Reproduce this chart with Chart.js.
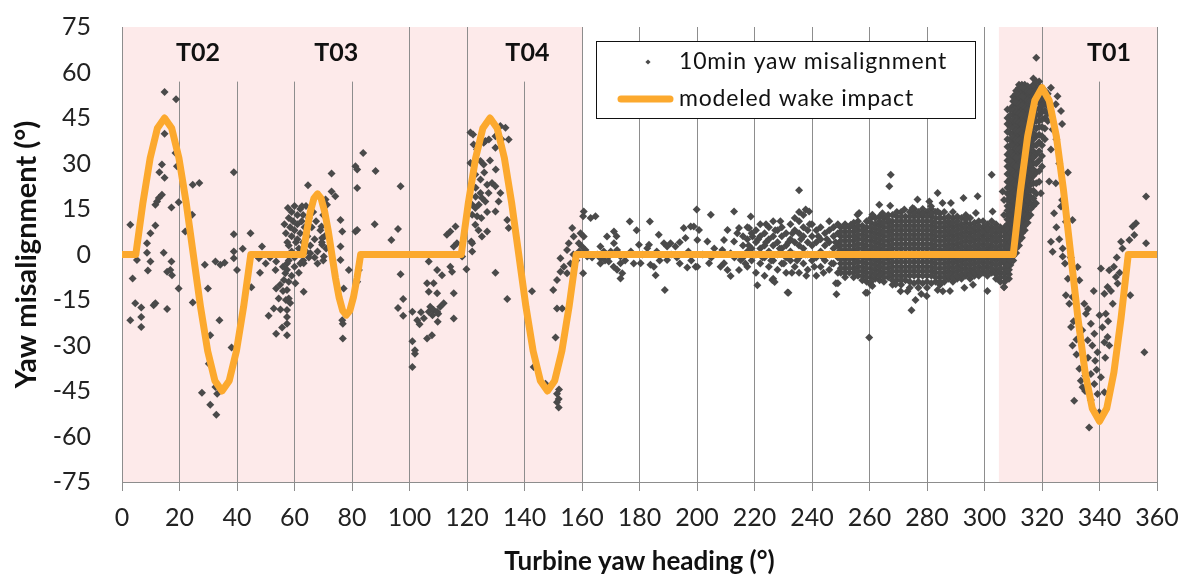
<!DOCTYPE html>
<html><head><meta charset="utf-8">
<script src="https://cdn.jsdelivr.net/npm/chart.js@4"></script>
<style>html,body{margin:0;padding:0;background:#fff}</style>
</head><body>
<canvas id="c" width="1180" height="575"></canvas>
<script>
// ---------- data ----------
const xTickValues = [0,20,40,60,80,100,120,140,160,180,200,220,240,260,280,300,320,340,360];
const yTickValues = [-75,-60,-45,-30,-15,0,15,30,45,60,75];
const shadedRanges = [[0,160],[305,360]];
const turbineLabels = ['T02','T03','T04','T01'];
const turbineLabelX = [26.4,74.5,141,343.3];
const turbineBoxRanges = [[0.5,48.7],[57.3,91.6],[121.5,157],[321,358]];

const wakeX = [0,4.8,7.3,9.8,12.3,14.8,17.3,19.8,22.3,24.8,27.3,29.8,32.3,34.8,37.3,39.8,42.3,44.8,
  63,64.25,65.5,66.75,68,69.25,70.5,71.75,73,74.25,75.5,76.75,78,79.25,80.5,81.75,83,
  118,120.5,123,125.5,128,130.5,133,135.5,138,140.5,143,145.5,148,150.5,153,155.5,158,
  310,312.5,315,317.5,320,322.5,325,327.5,330,332.5,335,337.5,340,342.5,345,347.5,350,360];
const wakeY = [0,0,17.2,31.8,41.6,45,41.6,31.8,17.2,0,-17.2,-31.8,-41.6,-45,-41.6,-31.8,-17.2,0,
  0,7.7,14.1,18.5,20,18.5,14.1,7.7,0,-7.7,-14.1,-18.5,-20,-18.5,-14.1,-7.7,0,
  0,17.2,31.8,41.6,45,41.6,31.8,17.2,0,-17.2,-31.8,-41.6,-45,-41.6,-31.8,-17.2,0,
  0,21,38.9,50.8,55,50.8,38.9,21,0,-21,-38.9,-50.8,-55,-50.8,-38.9,-21,0,0];

const pointsT02 = [[14.8,53.6],[18.8,51.2],[14.8,39.8],[18.6,33.5],[19.1,29.1],[13.9,29.7],[13,27.1],[14.8,25.3],[38.9,27.1],[24.6,23],[26.9,23.6],[13.9,19.7],[12.8,18.6],[11.6,16.4],[12.2,17.5],[17.2,15.5],[19.7,17.2],[2.9,9.8],[11.6,9.6],[9.9,7],[8.7,3.7],[24.4,13.1],[22,7.6],[38.9,6.7],[44.7,7],[8.7,0.6],[14.5,0.6],[5.2,-1.8],[9.9,-2.3],[17.2,-2.3],[9,-5.3],[15.7,-5.7],[17.4,-6.8],[16.8,-5.1],[3.7,-7.9],[19.7,-11.2],[4.6,-16.1],[6.7,-17.5],[6.7,-20.6],[2.9,-21.7],[6.7,-23.9],[11,-16.7],[11.6,-16.1],[15.7,-18],[24.6,-15.8],[28.8,-3.4],[29.9,-11.2],[32.5,-2.3],[34.2,-3.4],[35.7,-2.7],[33.9,-21.7],[30.7,-26.6],[38.1,-30.7],[30.2,-36],[32.5,-43.7],[33.1,-45.9],[27.8,-45.6],[30.7,-49.5],[32.8,-52.8],[38.9,1],[38.9,-1.2],[40,-5.1],[42,1.9],[45,-10.8],[48.7,2.6],[47.6,-1.2]];

const pointsT03 = [[57.7,15.3],[64.7,22.8],[72.9,26.7],[72.9,20.8],[70.8,18.1],[71.3,16.4],
[58,12],[58.5,9],[59,14],[59,6],[59.5,11],[60,16],[60,8],[60.5,4],[61,13],[61,10],[61.5,2],[62,15],[62,7],[62.5,11],[63,4],[63,13],[63.5,9],[64,16],[64,1],[64.5,6],[65,12],[65.5,3],[66,9],[66.5,14],[67,5],[67.5,11],[68,1],[69,8],[69.5,4],[70,13],[70.5,6],[71,2],[58,3],[59,1],[60,-1],[61,5],[62,0],[57,7],[57.5,4],[56.5,10],[63,-2],[65,-1],
[69.4,9.2],[69.6,5.4],[69.6,3.2],[70.2,-0.7],[65.5,0.4],[62.6,-0.1],[63.2,-2.9],
[53.6,-2.3],[53.4,-5.1],[56.8,-6.2],[58,-9],[56.3,-8.4],[60.3,-9.5],[53.6,-11.2],[57.4,-11.7],[63.2,-12.3],[54.5,-14.5],[58,-14.5],[52.8,-17.8],[55.1,-18.1],[57.4,-18.3],[51,-20.2],[57.4,-20.6],[57.4,-22.8],[55.7,-24.1],[57.4,-26.6],[53.6,-26.1],
[57.4,-3],[57.4,-5],[58,-2],[56,-4],[57,-15],[58.5,-16],[56,-12],[55,-10],[59,-7],[60,-4],[61.5,-6],[62,-3],
[76,11.4],[76.6,7.6],[76,2.6],[76,-1.8],[78.9,-5.1],[77.1,-11.2],[76.6,-21.7],[76.8,-22.8],[76.8,-27.7],[83.9,33.5],[81.2,29.1],[81.8,28],[81.8,21.9],[88.2,27.5],[87.9,10],[81.2,7.6],[81.8,8.1],[82.4,-5.1],[81.8,-9],[74.2,19.2],[67,-1],[68,-3],[70,-2],[62.6,15.9],[50,-3],[51.5,-1],[48,-6]];

const pointsGap = [[96.9,22.5],[96,8.4],[93.7,4.8],[96.9,-6.5],[97.8,-14.7],[96,-17.6],[97.8,-20.2],[101,-18.9],[102.7,-21.7],[101,-28.6],[101.9,-31.6],[101.9,-32.7],[101,-37.1],
[106.7,-2.3],[106.1,-9.5],[108.4,-9.5],[106.7,-12.3],[109.6,-12.8],[107.2,-17.2],[108.4,-18.3],[106.7,-18.9],[109.6,-18.9],[110.7,-17.2],[111.9,-16.1],[109.8,-22.2],[106.1,-27.7],[107.8,-26.6],[109.6,-5.1],[111.3,-6.8],[114.2,-4],[114.8,-5.7],[115.4,-12.8],[115.4,-21.1],[113,6.5],[114.2,7.6],[116,9.2],[115.4,2.6],[116.5,3.7],[118.3,-0.7],[119.8,-4.9],[121.8,1],[121.5,4.3],[103.5,-23],[104,-19],[105,-21],[108,-20],[110,-19.5]];

const pointsT04 = [[121.2,40.2],[122.1,39.6],[122.3,36.3],[125.8,36.8],[126.4,37.4],[123.5,34.6],[127.6,37.9],[129.9,39],[131.6,42.4],[133.4,41.8],[134.5,37.9],[129.9,35.2],[121.2,30.2],[124.7,30.8],[125.8,29.7],[122.9,26.4],[124.7,24.7],[127,23],[128.7,23.6],[129.9,22.5],[131.6,20.3],[127.5,20.3],[124.7,20.3],[125.2,18.6],[126.4,17.5],[121.8,16.4],[122.9,15.3],[124.1,16.4],[121.8,13.1],[123.5,12.6],[129.9,14.2],[131,17.5],[134,11.4],[134.5,8.7],[125.2,5.9],[127,7.6],[122.9,9.8],[121.8,3.7],[129.9,-6],[134,-14.7],[142.6,-12.1],[150,-11.7],[150.8,-27.4],[151.3,-17.8],[153.1,-17.8],[151.3,-45.9],[151.9,-47.6],[151.3,-48.7],[151.9,-50.4],[147.3,-42.6],[143.2,-37.1],[152,-44.5],
[123,22],[126,27],[128,31],[130,28],[132,38],[125,12],[123,19],[127,14],[124,8],
[156.6,8.7],[157.1,5.9],[159.5,7],[160.6,5.9],[158.9,3.7],[155.4,3.7],[154.8,1.5],[160,2.6],[161.2,1.5],[161.8,-0.7],[152.5,-1.2],[153.7,-4],[152.5,-5.7],[154.8,-6.2],[151.3,-8.4],[160.4,-6.2],[160.6,14.2],[160.4,12.6],[163,12],[164.7,12.6],[157,0],[158,-2],[159,1],[156,-3]];

const pointsMid = [[166.4,2.6],[167.6,1],[169.3,-0.7],[171.1,3.7],[172.2,1.5],[173.4,-0.7],[173.4,-2.9],[174,-6.2],[173.4,-7.9],[168.7,5.9],[171.1,7.6],[176.6,10.9],[179.8,3.2],[180.4,-2.9],[183.6,10.9],[183.3,3.2],[183.8,-3.4],[185.6,-6.8],[185,-4],[186.7,6.5],[188.5,3.7],[189.6,2.6],[190.8,3.7],[192.5,2.6],[195.4,8.7],[196,5.4],[198.9,9.2],[199.9,14.8],[196.6,-4.3],[199.5,-4],[188.8,-11.7],[189.6,-1.8],[182.7,2.1],[163.5,-1],[165.3,0],[166.4,-1.2],[169.3,-2.3],[171,-4],[172.2,-5],[166.4,-3],[168,-2],[177,1],[178,-3],[181,0],[186,1],[187,-2],[191,0],[193,-1],[194,4],[197,1],[198,-2],[175,-2],[170,1],[172,6],[179,8],[194,-3],
[197.8,9.2],[200.7,8.1],[200.1,4.8],[203.6,4.3],[209.4,4.8],[210.6,8.1],[212.9,4.3],[214.6,8.7],[214,7],[208.8,1.5],[211.7,0.4],[215.2,-1.8],[209.4,-2.9],[204.2,-2.9],[200.1,-4],[208.2,-4],[211.7,-7.1],[210.6,-5.1],[214.6,-5.1],[218.7,12.5],[218.1,8.7],[219.3,5.9],[204.8,13.1],[212.9,14.2],[202,0],[206,2],[205,-1],[213,-1]];

// band of 10-min values, read column by column (x, then the y values seen in that column)
const bandColumnX = [216,217.5,219,220.5,222,223.5,225,226.5,228,229.5,231,232.5,234,235.5,237,238.5,240,241.5,243,244.5,246,247.5,249,
  250,251.5,253,254.5,256,257.5,259,260.5,262,263.5,265,266.5,268,269.5,271,272.5,274,275.5,277,278.5,280,281.5,283,284.5,286,287.5,289,290.5,292,293.5,295,296.5,298,299.5,301,302.5,304,305.5,307,308.5];
const bandColumnY = [
  [-1,3,6],[-4,1,5,9],[-2,2,7],[-6,0,4,8],[-3,2,6,10],[-7,-1,3,7],[-4,1,5,9],[-8,-2,3,6,11],[-5,0,4,8],[-3,2,6,9],[-6,-1,3,7],[-2,1,5,10],[-4,0,4,8,12],[-6,-1,3,7,11,14],[-3,2,6,9,13],[-5,0,4,8],[-2,3,6,10],[-7,-1,4,8],[-4,1,5,9],[-2,3,7],[-5,0,4,8,11],[-3,2,6,9],[-6,-1,3,7,10],
  [-6,-3,0,3,6,9],[-7.5,-4.5,-1.5,1.5,4.5,7.5,10],[-6,-3,0,3,6,9],[-7.5,-4.5,-1.5,1.5,4.5,7.5,10.5],[-7,-4,-1,2,5,8,11],[-8.5,-5.5,-2.5,0.5,3.5,6.5,9.5],[-9,-6,-3,0,3,6,9,11],[-10,-7.5,-4.5,-1.5,1.5,4.5,7.5,10.5,12],[-8,-5,-2,1,4,7,10,12],[-8.5,-5.5,-2.5,0.5,3.5,6.5,9.5,12.5],[-9,-6,-3,0,3,6,9,12],[-7.5,-4.5,-1.5,1.5,4.5,7.5,10.5,13],[-10,-7,-4,-1,2,5,8,11,13],[-8.5,-5.5,-2.5,0.5,3.5,6.5,9.5,12.5,14],[-10,-7,-4,-1,2,5,8,11,14],[-8.5,-5.5,-2.5,0.5,3.5,6.5,9.5,12.5],[-11,-7,-4,-1,2,5,8,11,14],[-9.5,-5.5,-2.5,0.5,3.5,6.5,9.5,12.5,15],[-11,-7,-4,-1,2,5,8,11,14],[-9.5,-5.5,-2.5,0.5,3.5,6.5,9.5,12.5,15],[-11,-7,-4,-1,2,5,8,11,14],[-9.5,-5.5,-2.5,0.5,3.5,6.5,9.5,12.5,15],[-9,-6,-3,0,3,6,9,12,14],[-10,-7.5,-4.5,-1.5,1.5,4.5,7.5,10.5,13.5],[-9,-6,-3,0,3,6,9,12,14],[-8,-5.5,-2.5,0.5,3.5,6.5,9.5,12.5],[-9,-6,-3,0,3,6,9,12,14],[-8,-5.5,-2.5,0.5,3.5,6.5,9.5,12.5],[-8,-5,-2,1,4,7,10,12],[-7,-4.5,-1.5,1.5,4.5,7.5,10.5,13],[-8,-5,-2,1,4,7,10,12],[-7,-4.5,-1.5,1.5,4.5,7.5,10.5],[-7,-4,-1,2,5,8,11],[-6,-3,0,3,6,9,11],[-7,-4,-1,2,5,8,10],[-6,-3,0,3,6,9,11],[-8,-5,-2,1,4,7,10],[-9,-6,-3,0,3,6,9],[-9,-6,-3,0,3,6,9],[-8,-5,-2,1,4,7]];
// second reading pass of the dense core (250-308.5)
const bandCoreX = [250,251.5,253,254.5,256,257.5,259,260.5,262,263.5,265,266.5,268,269.5,271,272.5,274,275.5,277,278.5,280,281.5,283,284.5,286,287.5,289,290.5,292,293.5,295,296.5,298,299.5,301,302.5,304,305.5,307,308.5];
const bandCoreY = [
  [-4.5,-1.5,1.5,4.5,7.5],[-6,-3,0,3,6,9],[-4.5,-1.5,1.5,4.5,7.5],[-6,-3,0,3,6,9],[-5.5,-2.5,0.5,3.5,6.5,9.5],[-7,-4,-1,2,5,8],[-7.5,-4.5,-1.5,1.5,4.5,7.5],[-9,-6,-3,0,3,6,9],[-6.5,-3.5,-0.5,2.5,5.5,8.5],[-7,-4,-1,2,5,8,11],[-7.5,-4.5,-1.5,1.5,4.5,7.5,10.5],[-6,-3,0,3,6,9,11.5],[-8.5,-5.5,-2.5,0.5,3.5,6.5,9.5],[-7,-4,-1,2,5,8,11],[-8.5,-5.5,-2.5,0.5,3.5,6.5,9.5,12.5],[-7,-4,-1,2,5,8,11],[-9,-5.5,-2.5,0.5,3.5,6.5,9.5,12.5],[-7,-4,-1,2,5,8,11,13.5],[-9,-5.5,-2.5,0.5,3.5,6.5,9.5,12.5],[-7,-4,-1,2,5,8,11,13.5],[-9,-5.5,-2.5,0.5,3.5,6.5,9.5,12.5],[-7,-4,-1,2,5,8,11,13.5],[-7.5,-4.5,-1.5,1.5,4.5,7.5,10.5],[-9,-6,-3,0,3,6,9,12],[-7.5,-4.5,-1.5,1.5,4.5,7.5,10.5],[-7,-4,-1,2,5,8,11],[-7.5,-4.5,-1.5,1.5,4.5,7.5,10.5],[-7,-4,-1,2,5,8,11],[-6.5,-3.5,-0.5,2.5,5.5,8.5],[-6,-3,0,3,6,9,11.5],[-6.5,-3.5,-0.5,2.5,5.5,8.5],[-6,-3,0,3,6,9],[-5.5,-2.5,0.5,3.5,6.5,9.5],[-4.5,-1.5,1.5,4.5,7.5],[-5.5,-2.5,0.5,3.5,6.5,8.5],[-4.5,-1.5,1.5,4.5,7.5],[-6.5,-3.5,-0.5,2.5,5.5,8.5],[-7.5,-4.5,-1.5,1.5,4.5,7.5],[-7.5,-4.5,-1.5,1.5,4.5,7.5],[-6.5,-3.5,-0.5,2.5,5.5]];

const pointsBandExtra = [[216.8,-3],[218,3],[219.8,0],[221.3,5],[222.8,-1],[224,4],[225.8,-2],[227.2,8],[228.8,2],[230.2,-3],[231.8,4],[233.2,7],[234.8,-2],[236.2,5],[237.8,0],[239.2,10],[240.8,-4],[242.2,6],[243.8,-1],[245.2,5],[246.8,-3],[248.2,4],[249.5,1],[233,-6],[238,-7],[244,-6],[229,11],[224,10]];

const pointsBandOutliers = [[235.5,21.2],[221,-10.1],[231.5,-12.5],[226.2,-8.4],[248.3,-9.5],[248.5,-13.1],[237.8,14.8],[239,14.2],[267.4,26.3],[266.9,22.5],[283.7,20.3],[276.7,18.1],[280.8,17.5],[281.4,15.9],[285.4,17],[288.3,17],[292.7,18.6],[297.6,19.2],[297,13.7],[302.5,26.3],[302.8,14.2],[263.4,16.4],[267.2,16.1],[264.5,13.6],[261,13.1],[272.1,14.8],[275,15.3],[283.7,14.2],[255.8,13.1],[256.4,13.7],[253.5,9.8],[274.6,-18.4],[259.9,-27.4],[279.9,-13.7],[258.7,-12.6],[261,-10.4],[269.1,-9.8],[270.8,-12.1],[273.2,-12.1],[283.7,-11.7],[285.5,-12.1],[301,-12],[306.8,-10.8],[227,-9.1],[231.8,-12.6],[249,-9.5],[259.2,-12.6],[293,-11],[296,-10],[288,-12],[278,-13],[276,-15],[306.3,20.8],[306.8,-10.7]];

const t01RiseX = [306.8,308,309,310,311,312,313,314,315,316,317,318,319,320,321,322];
const t01RiseY = [
  [-6,-2,3,8,13,18],
  [-5,-2,1,4,7,10,13,16,20,24,29,33,38,43,47.8],
  [-3.5,-0.5,2.5,5.5,8.5,11.5,14.5,17.5,20.5,23.5,26.5,29.5,32.5,36,40,44,48],
  [-2,1,4,7,10,13,16,19,22,25,28,31,34,37,40,43,46,49,52],
  [0.5,3.5,6.5,9.5,12.5,15.5,18.5,21.5,24.5,27.5,30.5,33.5,36.5,39.5,42.5,45.5,48.5,51.5,54],
  [3,6,9,12,15,18,21,24,27,30,33,36,39,42,45,48,51,54,56],
  [5.5,8.5,11.5,14.5,17.5,20.5,23.5,26.5,29.5,32.5,35.5,38.5,41.5,44.5,47.5,50.5,53.5,56],
  [8,11,14,17,20,23,26,29,32,35,38,41,44,47,50,53,56],
  [10.5,13.5,16.5,19.5,22.5,25.5,28.5,31.5,34.5,37.5,40.5,43.5,46.5,49.5,52.5,55.5],
  [13,17,21,25,28,31,34,37,40,43,46,49,52,55],
  [16,21,26,30,34,38,42,45,48,51,54,58],
  [20,27,33,39,44,48,52,55,64.9],
  [24,31,37,42,46,50,54,57],
  [29,36,42,47,51,55],
  [38,45,50,54],
  [44,49,53]];
const t01CoreX = [308,309,310,311,312,313,314,315,316,317,318,319,320,321,322];
const t01CoreY = [
  [-3.5,-0.5,2.5,5.5,8.5,11.5,14.5,18,22,26.5,31,35.5,40.5,45],
  [-2,1,4,7,10,13,16,19,22,25,28,31,34,38,42,46],
  [-0.5,2.5,5.5,8.5,11.5,14.5,17.5,20.5,23.5,26.5,29.5,32.5,35.5,38.5,41.5,44.5,47.5,50.5],
  [2,5,8,11,14,17,20,23,26,29,32,35,38,41,44,47,50,53],
  [4.5,7.5,10.5,13.5,16.5,19.5,22.5,25.5,28.5,31.5,34.5,37.5,40.5,43.5,46.5,49.5,52.5,55],
  [7,10,13,16,19,22,25,28,31,34,37,40,43,46,49,52,55],
  [9.5,12.5,15.5,18.5,21.5,24.5,27.5,30.5,33.5,36.5,39.5,42.5,45.5,48.5,51.5,54.5],
  [12,15,18,21,24,27,30,33,36,39,42,45,48,51,54],
  [15,19,23,26.5,29.5,32.5,35.5,38.5,41.5,44.5,47.5,50.5,53.5],
  [18.5,23.5,28,32,36,40,43.5,46.5,49.5,52.5,56],
  [23.5,30,36,41.5,46,50,53.5,57],
  [27.5,34,39.5,44,48,52,55.5],
  [32.5,39,44.5,49,53],
  [41.5,47.5,52],
  [46.5,51]];

const pointsT01Fall = [[323.1,55],[325.4,52.2],[326.6,47.3],[324.8,49.5],[323.7,41.2],[323.1,34.6],[322.5,24.1],[324.8,23.5],[319.6,20.2],[317.9,16.9],[324.2,13.6],[326.6,15.8],[328.3,10.8],[330.6,11.4],[323.1,4.2],[323.7,0.9],[327.2,2],[327.2,-0.7],[332.4,-4.1],[333,-8.5],[330.6,-14],[329.5,-16.2],[328.3,-13.4],[330.1,-23.9],[334.7,-16.2],[335.3,-19.5],[337,-22.8],[338.2,-26.1],[335.9,-28.3],[330.6,-30],[333,-37.7],[333.5,-41.6],[334.1,-43.8],[337,-39.4],[338.2,-42.7],[339.3,-46],[331.2,-48.2],[336.4,-57],[341.7,-45.4],[340.5,-40.5],[339.3,-32.2],[341.7,-28.9],[342.8,-27.2],[343.4,-30],[342.2,-19.5],[341.7,-12.9],[342.8,-10.7],[345.7,-7.4],[346.3,-9.6],[344.6,-16.2],[340.5,-4.6],[343.4,-5.2],[347.5,4.2],[350.4,4.8],[352.1,6.4],[352.7,10.3],[351.5,9.2],[356.2,19.1],[356.2,3.7],[355.6,-32.2],[350.7,-13.4],[339.9,-52],
[336,-34],[337.5,-30],[338.5,-35],[339,-38],[335,-40],[332,-33],[334,-25],[336,-18],[338,-12],[340,-20],[341,-24],[342,-34],[343,-22],[344,-12],[345,-4],[346,-1],[347,-6],[348,2],[337,-48],[335,-45],[332,-28],[331,-22],[329,-8],[328,-3],[330,-1],[326,5],[325,9],[327,18],[329,27],[326,30],[325,38],[327,43]];

// ---------- build datasets ----------
const toXY = arr => arr.map(p => ({x:p[0], y:p[1]}));
const fromColumns = (xs, ys) => xs.flatMap((x,i) => ys[i].map(y => ({x, y})));
const scatterData = [].concat(
  toXY(pointsT02), toXY(pointsT03), toXY(pointsGap), toXY(pointsT04), toXY(pointsMid),
  fromColumns(bandColumnX, bandColumnY), fromColumns(bandCoreX, bandCoreY),
  toXY(pointsBandExtra), toXY(pointsBandOutliers),
  fromColumns(t01RiseX, t01RiseY), fromColumns(t01CoreX, t01CoreY), toXY(pointsT01Fall));
const wakeData = wakeX.map((x,i) => ({x, y:wakeY[i]}));

const PINK = '#fdeaea';
const ORANGE = '#fca92e';
const DOT = '#4a4a4a';
const GRID = '#8d8d8d';

const decorPlugin = {
  id:'decor',
  beforeDraw(chart){
    const {ctx, chartArea:a, scales:{x}} = chart;
    ctx.save();
    ctx.fillStyle = '#fff';
    ctx.fillRect(0,0,chart.width,chart.height);
    ctx.fillStyle = PINK;
    shadedRanges.forEach(([s,e]) => {
      const x0 = x.getPixelForValue(s), x1 = x.getPixelForValue(e);
      ctx.fillRect(x0, a.top, x1-x0, a.bottom-a.top);
    });
    ctx.restore();
  },
  beforeDatasetsDraw(chart){
    const {ctx, chartArea:a, scales:{x,y}} = chart;
    ctx.save();
    const boxBottom = y.getPixelForValue(57);
    ctx.fillStyle = PINK;
    turbineBoxRanges.forEach(([s,e]) => {
      const x0 = Math.round(x.getPixelForValue(s))+1, x1 = Math.round(x.getPixelForValue(e));
      ctx.fillRect(x0, a.top, x1-x0, boxBottom-a.top);
    });
    ctx.fillStyle = '#111';
    ctx.font = 'bold 25px Lato';
    ctx.textAlign = 'center';
    ctx.textBaseline = 'middle';
    turbineLabels.forEach((t,i) => {
      ctx.fillText(t, x.getPixelForValue(turbineLabelX[i]), y.getPixelForValue(66.5));
    });
    ctx.restore();
  },
  afterDraw(chart){
    const {ctx, chartArea:a} = chart;
    ctx.save();
    // legend
    const lx = 596.5, ly = 41.5, lw = 379, lh = 77;
    ctx.fillStyle = '#fff';
    ctx.fillRect(lx, ly, lw, lh);
    ctx.strokeStyle = '#111';
    ctx.lineWidth = 1;
    ctx.strokeRect(lx, ly, lw, lh);
    ctx.fillStyle = DOT;
    ctx.beginPath();
    const mx = 648, my = 62, mr = 2.6;
    ctx.moveTo(mx, my-mr); ctx.lineTo(mx+mr, my); ctx.lineTo(mx, my+mr); ctx.lineTo(mx-mr, my); ctx.closePath();
    ctx.fill();
    ctx.strokeStyle = ORANGE;
    ctx.lineWidth = 7;
    ctx.lineCap = 'round';
    ctx.beginPath(); ctx.moveTo(621, 99); ctx.lineTo(670, 99); ctx.stroke();
    ctx.fillStyle = '#111';
    ctx.font = '23px Lato';
    ctx.letterSpacing = '0.8px';
    ctx.textAlign = 'left';
    ctx.textBaseline = 'middle';
    ctx.fillText(chart.data.datasets[1].label, 679, 62);
    ctx.fillText(chart.data.datasets[0].label, 679, 99);
    ctx.letterSpacing = '0px';
    // axis titles
    ctx.font = 'bold 26px Lato';
    ctx.textAlign = 'center';
    ctx.fillText('Turbine yaw heading (°)', (a.left+a.right)/2, 562);
    ctx.translate(27, (a.top+a.bottom)/2);
    ctx.rotate(-Math.PI/2);
    ctx.font = 'bold 29px Lato';
    ctx.fillText('Yaw misalignment (°)', 0, 0);
    ctx.restore();
  }
};

new Chart(document.getElementById('c'), {
  type:'scatter',
  data:{datasets:[
    {label:'modeled wake impact', data:wakeData, showLine:true, pointRadius:0, borderColor:ORANGE, borderWidth:7, borderJoinStyle:'round', order:1},
    {label:'10min yaw misalignment', data:scatterData, pointStyle:'rectRot', pointRadius:4, backgroundColor:DOT, borderColor:DOT, borderWidth:0, order:2}
  ]},
  options:{
    responsive:false, animation:false, devicePixelRatio:1,
    layout:{padding:{top:27, right:23, left:0, bottom:0}},
    plugins:{legend:{display:false}, tooltip:{enabled:false}},
    scales:{
      x:{type:'linear', min:0, max:360,
        afterBuildTicks:s=>{s.ticks = xTickValues.map(v=>({value:v}));},
        afterFit:s=>{s.height = 93; s.paddingLeft = 0; s.paddingRight = 0;},
        grid:{color:GRID, lineWidth:1, tickLength:9, drawTicks:true},
        border:{display:true, color:GRID},
        ticks:{font:{family:'Lato', size:25}, color:'#222', padding:12, maxRotation:0, autoSkip:false}},
      y:{type:'linear', min:-75, max:75,
        afterBuildTicks:s=>{s.ticks = yTickValues.map(v=>({value:v}));},
        afterFit:s=>{s.width = 122; s.paddingTop = 0; s.paddingBottom = 0;},
        grid:{display:false, drawTicks:false},
        border:{display:true, color:GRID},
        ticks:{font:{family:'Lato', size:25}, color:'#222', padding:31}}
    }
  },
  plugins:[decorPlugin]
});
</script>
</body></html>
